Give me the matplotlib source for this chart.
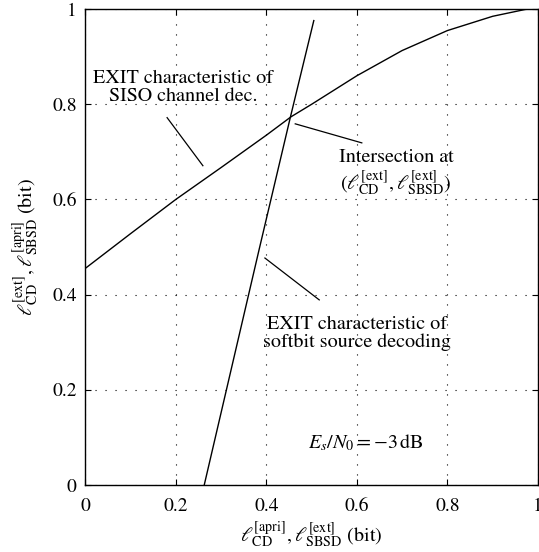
import matplotlib
matplotlib.use("Agg")
import matplotlib.pyplot as plt

plt.rcParams['font.family'] = ['STIXGeneral', 'DejaVu Serif']
plt.rcParams['mathtext.fontset'] = 'stix'

# EXIT characteristic of SISO channel decoder
cd_x = [0.0, 0.1, 0.2, 0.3, 0.4, 0.455, 0.5, 0.6, 0.7, 0.8, 0.9, 0.975]
cd_y = [0.455, 0.528, 0.600, 0.667, 0.735, 0.774, 0.800, 0.860, 0.913, 0.955, 0.985, 1.0]

# EXIT characteristic of softbit source decoding
sb_x = [0.263, 0.384, 0.453, 0.505]
sb_y = [0.0, 0.494, 0.772, 0.976]

ticks = [0, 0.2, 0.4, 0.6, 0.8, 1]
tick_labels = ['0', '0.2', '0.4', '0.6', '0.8', '1']

fig = plt.figure(figsize=(5.39, 5.52), dpi=100)
ax = fig.add_axes([0.158, 0.1214, 0.84, 0.862])

ax.plot(cd_x, cd_y, color='black', lw=1.0)
ax.plot(sb_x, sb_y, color='black', lw=1.0)

ax.set_xlim(0, 1)
ax.set_ylim(0, 1)
ax.set_xticks(ticks)
ax.set_yticks(ticks)
ax.set_xticklabels(tick_labels)
ax.set_yticklabels(tick_labels)
ax.tick_params(direction='in', top=True, right=True, labelsize=14, length=4)
ax.tick_params(axis='x', pad=9)
ax.tick_params(axis='y', pad=6)
ax.grid(True, color='black', linestyle=(0, (1, 8)), linewidth=0.8)
for s in ax.spines.values():
    s.set_linewidth(1.0)

ax.set_xlabel(r'$\ell_{\mathrm{CD}}^{[\mathrm{apri}]}, \ell_{\mathrm{SBSD}}^{[\mathrm{ext}]}$ (bit)',
              fontsize=14.5, labelpad=4)
ax.set_ylabel(r'$\ell_{\mathrm{CD}}^{[\mathrm{ext}]}, \ell_{\mathrm{SBSD}}^{[\mathrm{apri}]}$ (bit)',
              fontsize=14.5, labelpad=8)

# annotations
ax.text(0.217, 0.835, 'EXIT characteristic of\nSISO channel dec.', ha='center', va='center',
        fontsize=14.5, linespacing=1.05)
ax.plot([0.181, 0.26], [0.772, 0.671], color='black', lw=0.9)

ax.text(0.687, 0.655, 'Intersection at\n' +
        r'$(\ell_{\mathrm{CD}}^{[\mathrm{ext}]}, \ell_{\mathrm{SBSD}}^{[\mathrm{ext}]})$',
        ha='center', va='center', fontsize=14.5, linespacing=1.15)
ax.plot([0.464, 0.611], [0.759, 0.719], color='black', lw=0.9)

ax.text(0.6, 0.318, 'EXIT characteristic of\nsoftbit source decoding', ha='center', va='center',
        fontsize=14.5, linespacing=1.05)
ax.plot([0.397, 0.517], [0.477, 0.389], color='black', lw=0.9)

ax.text(0.62, 0.09, r'$E_s/N_0 = -3\,\mathrm{dB}$', ha='center', va='center', fontsize=14.5)

fig.savefig('out.png', dpi=100)
